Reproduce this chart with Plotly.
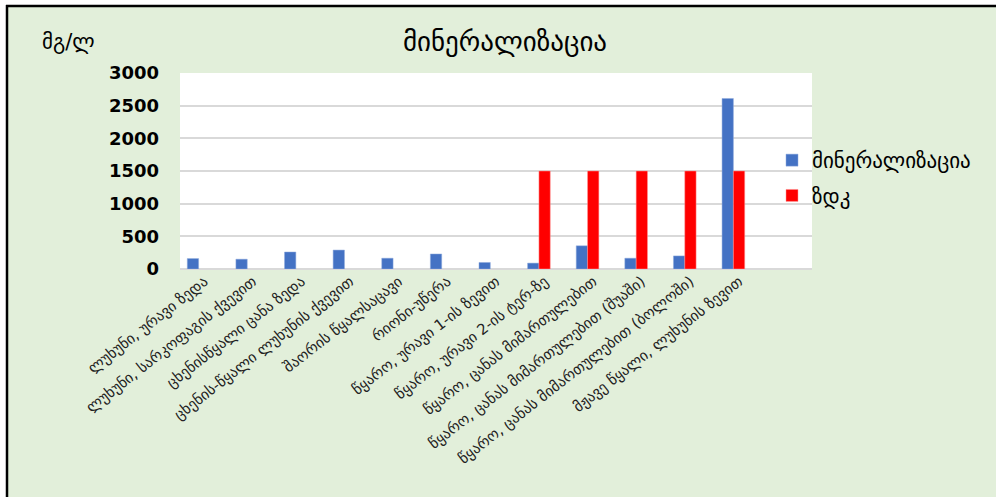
import plotly.graph_objects as go

categories = [
    "ლუხუნი, ურავი ზედა",
    "ლუხუნი, სარკოფაგის ქვევით",
    "ცხენისწყალი ცანა ზედა",
    "ცხენის-წყალი ლუხუნის ქვევით",
    "შაორის წყალსაცავი",
    "რიონი-უწერა",
    "წყარო, ურავი 1-ის ზევით",
    "წყარო, ურავი 2-ის ტერ-ზე",
    "წყარო, ცანას მიმართულებით",
    "წყარო, ცანას მიმართულებით (შუაში)",
    "წყარო, ცანას მიმართულებით (ბოლოში)",
    "მჟავე წყალი, ლუხუნის ზევით",
]
mineralization = [160, 150, 260, 290, 165, 230, 100, 90, 355, 165, 200, 2610]
zdk = [None, None, None, None, None, None, None, 1500, 1500, 1500, 1500, 1500]
y_ticks = [0, 500, 1000, 1500, 2000, 2500, 3000]

W, H = 996, 497
ML, MR, MT, MB = 180, 184, 73, 228
PW, PH = W - ML - MR, H - MT - MB


def px(x):
    return (x - ML) / PW


def py(y):
    return (H - MB - y) / PH


GEO = "DejaVu Sans"

fig = go.Figure()
fig.add_trace(go.Bar(
    x=categories, y=mineralization, name="მინერალიზაცია",
    marker=dict(color="#4472C4", line=dict(color="#8FAADC", width=0.5)),
    width=0.233, offset=-0.35, legendgroup="a",
))
fig.add_trace(go.Bar(
    x=categories, y=zdk, name="ზდკ",
    marker=dict(color="#FF0000", line=dict(color="#FF9999", width=0.5)),
    width=0.233, offset=-0.117, legendgroup="b",
))

shapes = [
    dict(type="rect", xref="paper", yref="paper", x0=px(0), x1=px(W), y0=py(0), y1=py(5),
         fillcolor="white", line=dict(width=0), layer="below"),
    dict(type="rect", xref="paper", yref="paper", x0=px(0), x1=px(6), y0=py(0), y1=py(H),
         fillcolor="white", line=dict(width=0), layer="below"),
    dict(type="line", xref="paper", yref="paper", x0=px(6), x1=px(W), y0=py(6), y1=py(6),
         line=dict(color="black", width=2.5)),
    dict(type="line", xref="paper", yref="paper", x0=px(7), x1=px(7), y0=py(5), y1=py(H),
         line=dict(color="black", width=2.5)),
]

fig.update_layout(
    width=W, height=H,
    margin=dict(l=ML, r=MR, t=MT, b=MB, autoexpand=False),
    paper_bgcolor="#E2EFDA",
    plot_bgcolor="white",
    barmode="group",
    showlegend=True,
    legend=dict(
        x=px(772), y=py(140), xanchor="left", yanchor="top",
        font=dict(family=GEO, size=21, color="black"),
        bgcolor="rgba(0,0,0,0)", tracegroupgap=5,
    ),
    title=dict(
        text="მინერალიზაცია", xref="paper", yref="container",
        x=px(505), y=1 - 42 / H, xanchor="center", yanchor="middle",
        font=dict(family=GEO, size=27, color="black"),
    ),
    annotations=[dict(
        text="მგ/ლ", xref="paper", yref="paper", x=px(40), y=py(42),
        xanchor="left", yanchor="middle", showarrow=False,
        font=dict(family=GEO, size=21, color="black"),
    )],
    shapes=shapes,
    xaxis=dict(
        type="category", range=[-0.5, 12.5],
        tickangle=-38, tickfont=dict(family=GEO, size=15, color="#222"),
        showgrid=False, showline=False, ticks="",
    ),
    yaxis=dict(
        range=[0, 3000], tickvals=y_ticks,
        tickfont=dict(family="DejaVu Sans", size=18, color="black", weight="bold"),
        showgrid=True, gridcolor="#D9D9D9", gridwidth=2,
        zeroline=True, zerolinecolor="#D9D9D9", zerolinewidth=2,
        ticklabelstandoff=20,
    ),
)

fig.write_html("out.html")
